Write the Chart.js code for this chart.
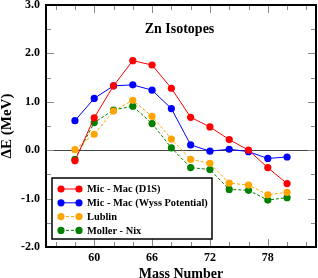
<!DOCTYPE html>
<html>
<head>
<meta charset="utf-8">
<script src="https://cdn.jsdelivr.net/npm/chart.js@4/dist/chart.umd.min.js"></script>
<style>
  html, body { margin: 0; padding: 0; background: #fff; }
  #chart { display: block; }
</style>
</head>
<body>
<canvas id="chart" width="318" height="278"></canvas>
<script>
// Zn isotopes: energy difference vs mass number
const massNumbers = [58, 60, 62, 64, 66, 68, 70, 72, 74, 76, 78, 80];
const micMacD1S   = [-0.22, 0.67, 1.33, 1.85, 1.76, 1.28, 0.68, 0.48, 0.22, 0.00, -0.36, -0.69];
const micMacWyss  = [0.61, 1.07, 1.33, 1.35, 1.24, 0.86, 0.11, -0.02, 0.02, -0.03, -0.17, -0.14];
const lublin      = [0.01, 0.33, 0.81, 1.03, 0.70, 0.23, -0.19, -0.27, -0.68, -0.72, -0.92, -0.87];
const mollerNix   = [-0.19, 0.57, 0.83, 0.91, 0.55, 0.05, -0.36, -0.40, -0.81, -0.83, -1.03, -0.98];
const xLabels = [60, 66, 72, 78];
const yLabels = [-2, -1, 0, 1, 2, 3];

const serif = "'Liberation Serif', 'DejaVu Serif', serif";

function series(label, values, color, dashed) {
    return {
        label,
        data: massNumbers.map((m, i) => ({ x: m, y: values[i] })),
        borderColor: color,
        backgroundColor: color,
        pointBackgroundColor: color,
        pointBorderWidth: 0,
        pointRadius: 3.6,
        borderWidth: 1,
        borderDash: dashed ? [3, 2] : [],
        tension: 0,
    };
}

// frame, inward ticks, title and legend inside the plot
const decorations = {
    id: "decorations",
    afterDatasetsDraw(chart) {
        const { ctx, chartArea: a, scales } = chart;
        ctx.save();

        // inward tick marks on all four sides
        ctx.strokeStyle = "#888";
        ctx.lineWidth = 1;
        scales.x.ticks.forEach(t => {
            if (t.value % 2 !== 0) return;
            const px = Math.round(scales.x.getPixelForValue(t.value)) + 0.5;
            const len = (t.value - 60) % 6 === 0 ? 8 : 5;
            ctx.beginPath();
            ctx.moveTo(px, a.bottom); ctx.lineTo(px, a.bottom - len);
            ctx.moveTo(px, a.top); ctx.lineTo(px, a.top + len);
            ctx.stroke();
        });
        scales.y.ticks.forEach(t => {
            if (t.value <= scales.y.min || t.value >= scales.y.max) return;
            const py = Math.round(scales.y.getPixelForValue(t.value)) + 0.5;
            const len = Number.isInteger(t.value) ? 8 : 5;
            ctx.beginPath();
            ctx.moveTo(a.left, py); ctx.lineTo(a.left + len, py);
            ctx.moveTo(a.right, py); ctx.lineTo(a.right - len, py);
            ctx.stroke();
        });

        // plot frame
        ctx.strokeStyle = "#000";
        ctx.lineWidth = 2;
        ctx.strokeRect(a.left, a.top, a.right - a.left, a.bottom - a.top);

        // title
        ctx.fillStyle = "#000";
        ctx.font = "bold 14px " + serif;
        ctx.textAlign = "center";
        ctx.textBaseline = "middle";
        ctx.fillText("Zn Isotopes", 179.5, a.top + 24);

        // legend box
        const bx = 52, by = 178, bw = 160, bh = 61;
        ctx.fillStyle = "#fff";
        ctx.fillRect(bx, by, bw, bh);
        ctx.strokeStyle = "#000";
        ctx.lineWidth = 1.5;
        ctx.strokeRect(bx, by, bw, bh);
        ctx.font = "bold 10.4px " + serif;
        ctx.textAlign = "left";
        chart.data.datasets.forEach((ds, i) => {
            const y = by + 11 + i * 13.8;
            ctx.strokeStyle = ds.borderColor;
            ctx.lineWidth = 1;
            ctx.setLineDash(ds.borderDash);
            ctx.beginPath();
            ctx.moveTo(61, y); ctx.lineTo(79, y);
            ctx.stroke();
            ctx.setLineDash([]);
            ctx.fillStyle = ds.borderColor;
            [61, 79].forEach(cx => {
                ctx.beginPath();
                ctx.arc(cx, y, 3.6, 0, Math.PI * 2);
                ctx.fill();
            });
            ctx.fillStyle = "#000";
            ctx.fillText(ds.label, 87, y + 0.5);
        });
        ctx.restore();
    }
};

new Chart(document.getElementById("chart"), {
    type: "line",
    data: {
        datasets: [
            series("Mic - Mac (D1S)", micMacD1S, "#ff0000", false),
            series("Mic - Mac (Wyss Potential)", micMacWyss, "#0000ff", false),
            series("Lublin", lublin, "#ffa500", true),
            series("Moller - Nix", mollerNix, "#008000", true),
        ],
    },
    options: {
        responsive: false,
        animation: false,
        layout: { autoPadding: false, padding: { top: 5, right: 2, left: 0, bottom: 0 } },
        plugins: { legend: { display: false }, tooltip: { enabled: false } },
        scales: {
            x: {
                type: "linear",
                min: 55,
                max: 83,
                afterFit: s => { s.height = 31; s.paddingLeft = 0; s.paddingRight = 0; },
                border: { display: false },
                grid: { display: false },
                ticks: {
                    stepSize: 1,
                    autoSkip: false,
                    maxRotation: 0,
                    padding: -4,
                    color: "#000",
                    font: { family: serif, size: 12, weight: "bold" },
                    callback: v => xLabels.includes(v) ? String(v) : "",
                },
                title: {
                    display: true,
                    text: "Mass Number",
                    color: "#000",
                    padding: { top: 0, bottom: -3 },
                    font: { family: serif, size: 14, weight: "bold", lineHeight: 1 },
                },
            },
            y: {
                min: -2,
                max: 3,
                afterFit: s => { s.width = 46; s.paddingTop = 0; s.paddingBottom = 0; },
                border: { display: false },
                grid: {
                    drawTicks: false,
                    color: c => c.tick && c.tick.value === 0 ? "#444" : "transparent",
                },
                ticks: {
                    stepSize: 0.5,
                    padding: 6,
                    color: "#000",
                    font: { family: serif, size: 12, weight: "bold" },
                    callback: v => yLabels.includes(v) ? v.toFixed(1) : "",
                },
                title: {
                    display: true,
                    text: "ΔE (MeV)",
                    color: "#000",
                    padding: { top: 0, bottom: 0 },
                    font: { family: serif, size: 15, weight: "bold", lineHeight: 1 },
                },
            },
        },
    },
    plugins: [decorations],
});
</script>
</body>
</html>
